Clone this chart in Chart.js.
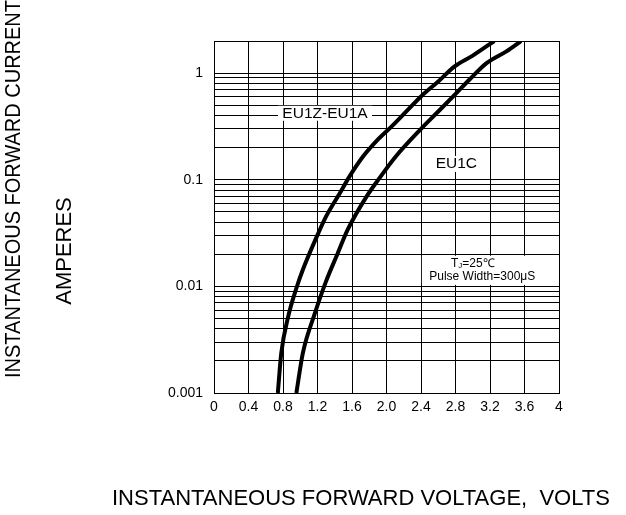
<!DOCTYPE html>
<html>
<head>
<meta charset="utf-8">
<script src="https://cdn.jsdelivr.net/npm/chart.js@4"></script>
<style>
  body { margin: 0; background: #fff; }
  .grafico { width: 626px; height: 515px; }
</style>
</head>
<body>
<div class="grafico"><canvas id="chart-vf"></canvas></div>
<script>

// curva EU1Z-EU1A
const voltsA = [0.74, 0.78, 0.86, 0.955, 1.03, 1.21, 1.30, 1.46, 1.57, 1.73, 1.88, 2.06, 2.23, 2.40, 2.60, 2.79, 3.00, 3.25];
const ampsA = [0.001, 0.00237, 0.0052, 0.0096, 0.0143, 0.0316, 0.0453, 0.075, 0.107, 0.166, 0.229, 0.316, 0.437, 0.604, 0.835, 1.155, 1.46, 2.0];

// curva EU1C
const voltsC = [0.955, 1.03, 1.17, 1.30, 1.43, 1.55, 1.77, 1.92, 2.11, 2.39, 2.62, 2.81, 2.96, 3.16, 3.39, 3.56];
const ampsC = [0.001, 0.00237, 0.0056, 0.0112, 0.02, 0.034, 0.0698, 0.104, 0.166, 0.294, 0.453, 0.65, 0.866, 1.24, 1.6, 2.0];

// eixos
const xTickValues = [0, 0.4, 0.8, 1.2, 1.6, 2.0, 2.4, 2.8, 3.2, 3.6, 4];
const xTickLabels = ["0", "0.4", "0.8", "1.2", "1.6", "2.0", "2.4", "2.8", "3.2", "3.6", "4"];
const yDecades = [0.001, 0.01, 0.1, 1];
const yTickLabels = ["0.001", "0.01", "0.1", "1"];
const yMultipliers = [1, 2, 3, 4, 5, 6, 7, 8, 9];

const fonte = "'Liberation Sans', Arial, sans-serif";

var yGrid = [];
yDecades.forEach(function (d) {
  yMultipliers.forEach(function (m) {
    if (d * m <= 2) yGrid.push(m == 1 ? d : d * m);
  });
});
yGrid.push(2);

function pontos(xs, ys) {
  return xs.map(function (x, i) { return { x: x, y: ys[i] }; });
}

const textos = {
  id: "textos",
  beforeDatasetsDraw(chart) {
    const c = chart.ctx;
    const sx = chart.scales.x;
    const sy = chart.scales.y;
    c.save();

    // caixas brancas por tras dos rotulos
    c.fillStyle = "#fff";
    var ax = sx.getPixelForValue(1.287), ay = sy.getPixelForValue(0.42);
    c.fillRect(ax - 47, ay - 7.5, 94, 15);
    var cx = sx.getPixelForValue(2.81), cy = sy.getPixelForValue(0.1407);
    c.fillRect(cx - 22, cy - 8, 44, 16);
    var bx = sx.getPixelForValue(2.41), by = sy.getPixelForValue(0.02);
    c.fillRect(bx, by + 1.5, chart.chartArea.right - bx - 1, sy.getPixelForValue(0.01) - by - 3);

    c.fillStyle = "#000";
    c.textAlign = "center";
    c.textBaseline = "middle";
    c.font = "15.5px " + fonte;
    c.fillText("EU1Z-EU1A", ax, ay);
    c.fillText("EU1C", cx, cy);

    // Tj=25C
    var tx = sx.getPixelForValue(3.0), ty = sy.getPixelForValue(0.0162);
    c.textAlign = "left";
    c.font = "12px " + fonte;
    var w1 = c.measureText("T").width;
    c.font = "8px " + fonte;
    var w2 = c.measureText("J").width;
    c.font = "12px " + fonte;
    var w3 = c.measureText("=25\u2103").width;
    var x0 = tx - (w1 + w2 + w3) / 2;
    c.fillText("T", x0, ty);
    c.font = "8px " + fonte;
    c.fillText("J", x0 + w1, ty + 2);
    c.font = "12px " + fonte;
    c.fillText("=25\u2103", x0 + w1 + w2, ty);

    c.textAlign = "center";
    c.fillText("Pulse Width=300\u03bcS", sx.getPixelForValue(3.11), sy.getPixelForValue(0.0122));
    c.restore();
  },
  afterDraw(chart) {
    const c = chart.ctx;
    c.save();
    c.fillStyle = "#000";
    c.font = "22px " + fonte;
    c.textBaseline = "alphabetic";
    c.textAlign = "left";
    c.fillText("INSTANTANEOUS FORWARD VOLTAGE,  VOLTS", 112, 505);

    c.translate(20, 189);
    c.rotate(-Math.PI / 2);
    c.textAlign = "center";
    c.fillText("INSTANTANEOUS FORWARD CURRENT", 0, 0, 378);
    c.rotate(Math.PI / 2);
    c.translate(51, 62);
    c.rotate(-Math.PI / 2);
    c.fillText("AMPERES", 0, 0);
    c.restore();
  }
};

const ctv = document.getElementById("chart-vf");

new Chart(ctv, {
  type: "line",
  data: {
    datasets: [
      {
        label: "EU1Z-EU1A",
        data: pontos(voltsA, ampsA),
        borderColor: "#000",
        borderWidth: 4,
        pointRadius: 0,
        cubicInterpolationMode: "monotone",
        fill: false
      },
      {
        label: "EU1C",
        data: pontos(voltsC, ampsC),
        borderColor: "#000",
        borderWidth: 4,
        pointRadius: 0,
        cubicInterpolationMode: "monotone",
        fill: false
      }
    ]
  },
  options: {
    animation: false,
    responsive: true,
    maintainAspectRatio: false,
    layout: {
      padding: { left: 0, top: 41, right: 67, bottom: 92 }
    },
    plugins: {
      legend: { display: false },
      tooltip: { enabled: false }
    },
    scales: {
      x: {
        type: "linear",
        min: 0,
        max: 4,
        afterBuildTicks: function (scale) {
          scale.ticks = xTickValues.map(function (v) { return { value: v }; });
        },
        afterFit: function (scale) { scale.height = 30; },
        grid: { color: "#000", lineWidth: 1, drawTicks: false },
        border: { color: "#000", width: 1 },
        ticks: {
          autoSkip: false,
          maxRotation: 0,
          padding: 6,
          color: "#000",
          font: { family: fonte, size: 14 },
          callback: function (value, index) { return xTickLabels[index]; }
        }
      },
      y: {
        type: "logarithmic",
        min: 0.001,
        max: 2,
        afterBuildTicks: function (scale) {
          scale.ticks = yGrid.map(function (v) { return { value: v }; });
        },
        afterFit: function (scale) { scale.width = 214; },
        grid: { color: "#000", lineWidth: 1, drawTicks: false },
        border: { color: "#000", width: 1 },
        ticks: {
          autoSkip: false,
          padding: 11,
          color: "#000",
          font: { family: fonte, size: 14 },
          callback: function (value) {
            var i = yDecades.indexOf(value);
            return i >= 0 ? yTickLabels[i] : "";
          }
        }
      }
    }
  },
  plugins: [textos]
});

</script>
</body>
</html>
